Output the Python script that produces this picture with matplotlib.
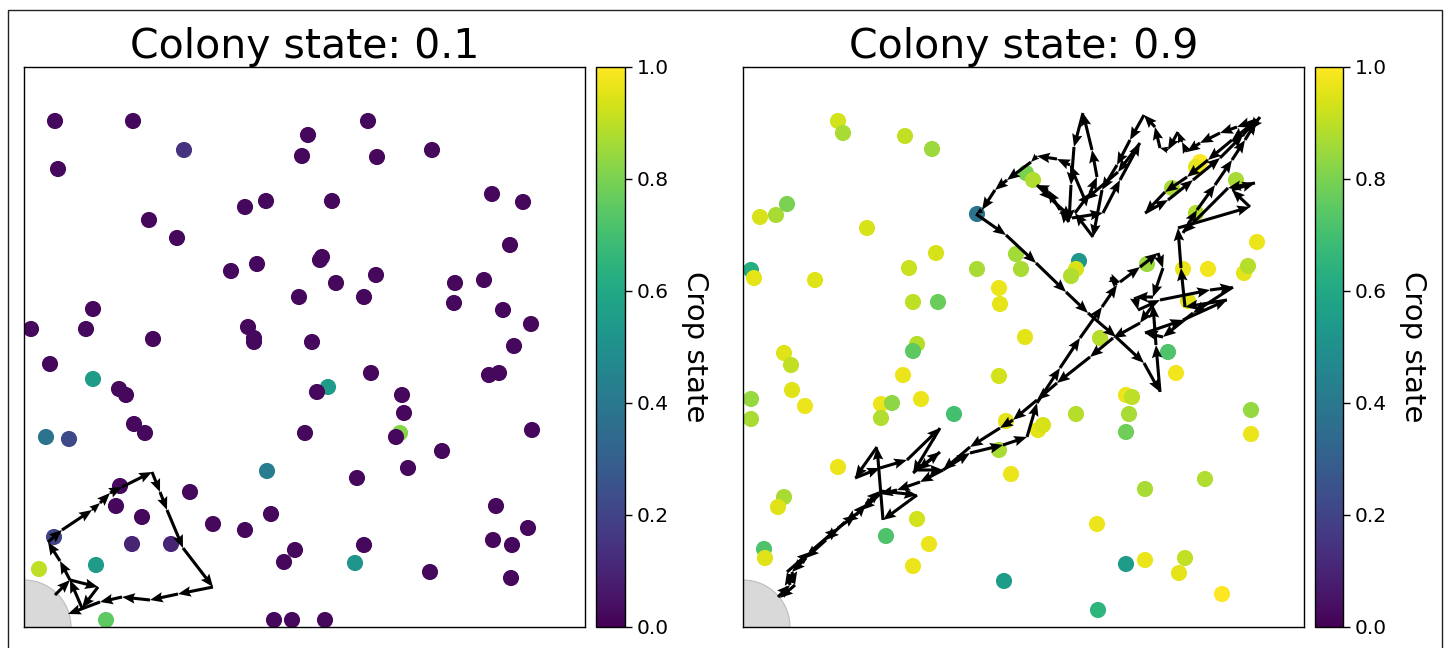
import numpy as np
import matplotlib
matplotlib.use("Agg")
import matplotlib.pyplot as plt
from matplotlib.patches import Circle, Rectangle

# ---------------- data ----------------
WORLD_W, WORLD_H = 561, 560
COLONY_R = 47

titles = ["Colony state: 0.1", "Colony state: 0.9"]
cbar_ticks = [0.0, 0.2, 0.4, 0.6, 0.8, 1.0]
cbar_label = "Crop state"

# left panel (colony state 0.1): crop positions and crop states
left_crop_x = [31, 109, 160, 34, 284, 278, 344, 353, 408, 468, 499, 221, 242, 308, 125, 153,
               486, 207, 233, 296, 298, 312, 352, 275, 340, 431, 460, 430, 479, 507, 490, 69,
               7, 62, 129, 224, 230, 230, 288, 26, 69, 95, 102, 110, 121, 22, 45, 304, 293,
               347, 378, 380, 281, 376, 372, 418, 384, 465, 475, 508, 243, 333, 96, 166, 92,
               118, 189, 221, 247, 108, 147, 30, 15, 72, 82, 271, 260, 340, 331, 406, 250,
               268, 301, 472, 469, 504, 488, 487]
left_crop_y = [506, 506, 477, 458, 492, 471, 506, 470, 477, 433, 425, 420, 426, 426, 407, 389,
               382, 356, 363, 367, 370, 344, 352, 330, 330, 344, 347, 324, 317, 303, 281, 318,
               298, 298, 288, 300, 289, 285, 285, 263, 248, 238, 232, 203, 194, 190, 188, 240,
               235, 254, 232, 214, 194, 194, 190, 176, 159, 252, 254, 197, 156, 149, 141, 135,
               121, 110, 103, 97, 113, 83, 83, 90, 58, 62, 7, 77, 65, 82, 64, 55, 7,
               7, 7, 121, 87, 99, 82, 49]
left_crop_c = [0.02, 0.02, 0.15, 0.02, 0.02, 0.02, 0.02, 0.02, 0.02, 0.02, 0.02, 0.02, 0.02,
               0.02, 0.02, 0.02, 0.02, 0.02, 0.02, 0.02, 0.02, 0.02, 0.02, 0.02, 0.02, 0.02,
               0.02, 0.02, 0.02, 0.02, 0.02, 0.02, 0.02, 0.02, 0.02, 0.02, 0.02, 0.02, 0.02,
               0.02, 0.55, 0.02, 0.02, 0.02, 0.02, 0.38, 0.22, 0.55, 0.02, 0.02, 0.02, 0.02,
               0.02, 0.82, 0.02, 0.02, 0.02, 0.02, 0.02, 0.02, 0.42, 0.02, 0.02, 0.02, 0.02,
               0.02, 0.02, 0.02, 0.02, 0.10, 0.10, 0.20, 0.90, 0.55, 0.75, 0.02, 0.02, 0.02,
               0.52, 0.02, 0.02, 0.02, 0.02, 0.02, 0.02, 0.02, 0.02, 0.02]

left_path_x = [31, 46, 74, 58, 46, 36, 24, 38, 68, 76, 86, 98, 128, 136, 143, 159, 189,
               154, 126, 98, 76, 44]
left_path_y = [32, 47, 40, 19, 47, 66, 85, 97, 117, 124, 134, 140, 155, 135, 117, 79, 40,
               33, 27, 30, 25, 13]

# right panel (colony state 0.9)
right_crop_x = [95, 100, 162, 189, 17, 33, 44, 124, 193, 166, 234, 8, 11, 72, 170, 195, 256,
                257, 273, 278, 234, 336, 333, 328, 282, 357, 174, 170, 41, 48, 160, 256, 49,
                62, 8, 8, 138, 149, 138, 178, 211, 333, 386, 383, 389, 383, 263, 295, 300,
                256, 268, 95, 41, 35, 21, 22, 174, 143, 186, 170, 261, 354, 383, 402, 442,
                436, 479, 355, 402, 462, 508, 508, 425, 433, 440, 465, 501, 505, 514, 445,
                404, 453, 493, 429, 457, 453, 283, 290]
right_crop_y = [506, 494, 491, 478, 410, 412, 423, 399, 374, 359, 358, 357, 349, 347, 325,
                325, 339, 323, 373, 358, 413, 366, 358, 351, 290, 289, 283, 276, 274, 262,
                252, 251, 237, 221, 228, 208, 223, 224, 209, 228, 213, 213, 213, 232, 230,
                195, 206, 197, 202, 177, 153, 160, 130, 120, 78, 69, 108, 91, 83, 61, 46,
                103, 63, 67, 69, 54, 33, 17, 138, 148, 217, 193, 275, 254, 358, 358, 354,
                361, 385, 326, 363, 414, 447, 439, 465, 460, 454, 447]
right_crop_c = [0.93, 0.87, 0.91, 0.85, 0.94, 0.87, 0.80, 0.94, 0.94, 0.92, 0.87, 0.62, 0.96,
                0.95, 0.90, 0.77, 0.97, 0.96, 0.86, 0.87, 0.38, 0.53, 0.94, 0.88, 0.96, 0.89,
                0.89, 0.75, 0.95, 0.91, 0.97, 0.93, 0.95, 0.97, 0.84, 0.87, 0.97, 0.83, 0.88,
                0.97, 0.70, 0.89, 0.87, 0.97, 0.90, 0.78, 0.96, 0.96, 0.94, 0.87, 0.97, 0.97,
                0.87, 0.95, 0.72, 0.95, 0.93, 0.72, 0.97, 0.97, 0.55, 0.97, 0.55, 0.97, 0.91,
                0.96, 1.00, 0.65, 0.87, 0.88, 0.84, 0.97, 0.72, 0.98, 0.97, 0.98, 0.96, 0.89,
                0.97, 0.95, 0.85, 0.88, 0.87, 0.87, 1.00, 0.96, 0.80, 0.88]

right_path_x = [35, 47, 44, 67, 95, 113, 123, 137, 174, 140, 134, 112, 137, 164, 197, 170,
                197, 175, 200, 227, 260, 284, 294, 317, 337, 359, 374, 367, 377, 397, 415,
                420, 410, 392, 395, 417, 467, 490, 450, 420, 402, 440, 484, 442, 438, 435,
                507, 489, 512, 485, 440, 454, 472, 489, 502, 513, 517, 507, 514, 489, 465,
                444, 422, 402, 425, 450, 477, 500, 513, 494, 477, 457, 444, 439, 435, 425,
                417, 412, 401, 387, 374, 359, 350, 332, 347, 354, 349, 340, 331, 328, 326,
                317, 305, 294, 309, 329, 360, 377, 397, 375, 342, 327, 314, 294, 288, 264,
                252, 239, 233, 263, 293, 323, 345, 373, 401, 417, 413, 410, 397, 370, 347,
                314, 294, 270, 257, 227, 200, 177, 154, 137, 119, 102, 83, 63, 49, 52, 37]
right_path_y = [30, 42, 55, 75, 99, 112, 123, 136, 132, 107, 180, 149, 159, 167, 199, 154,
                175, 157, 157, 174, 182, 190, 224, 259, 289, 320, 342, 349, 345, 360, 374,
                359, 330, 330, 317, 327, 337, 340, 314, 290, 294, 307, 327, 320, 359, 399,
                420, 437, 444, 439, 394, 417, 442, 467, 487, 505, 510, 497, 507, 487, 467,
                450, 435, 414, 427, 447, 469, 492, 507, 500, 494, 484, 475, 485, 495, 477,
                479, 500, 512, 487, 462, 437, 390, 414, 434, 450, 477, 514, 480, 442, 405,
                417, 437, 442, 427, 409, 414, 447, 484, 455, 427, 462, 468, 471, 465, 447,
                437, 417, 413, 392, 364, 335, 314, 290, 264, 235, 282, 322, 304, 289, 270,
                244, 227, 207, 199, 180, 157, 145, 137, 133, 117, 105, 87, 69, 55, 42, 29]

panels = [
    (titles[0], left_crop_x, left_crop_y, left_crop_c, left_path_x, left_path_y),
    (titles[1], right_crop_x, right_crop_y, right_crop_c, right_path_x, right_path_y),
]

# ---------------- figure ----------------
W, H = 1448, 648
fig = plt.figure(figsize=(W / 100, H / 100), dpi=100)

# outer frame of the figure
fig.patches.append(Rectangle((8 / W, -0.05), (1442 - 8) / W, 1.05 - 10 / H,
                             transform=fig.transFigure, fill=False,
                             edgecolor="#222222", linewidth=1.0))

ax_boxes = [(24, 585), (743, 1304)]
cb_boxes = [(596, 625), (1315, 1343)]
top_px, bot_px = 67, 627

for (title, cx, cy, cc, px, py), (a0, a1), (c0, c1) in zip(panels, ax_boxes, cb_boxes):
    ax = fig.add_axes([a0 / W, (H - bot_px) / H, (a1 - a0) / W, (bot_px - top_px) / H])
    ax.set_xlim(0, WORLD_W)
    ax.set_ylim(0, WORLD_H)
    ax.set_xticks([])
    ax.set_yticks([])
    for sp in ax.spines.values():
        sp.set_linewidth(1.0)

    ax.add_patch(Circle((0, 0), COLONY_R, facecolor="#d9d9d9",
                        edgecolor="#bdbdbd", linewidth=0.8, zorder=1))

    sc = ax.scatter(cx, cy, c=cc, cmap="viridis", vmin=0, vmax=1,
                    s=135, linewidths=0, zorder=2)

    x = np.asarray(px, dtype=float)
    y = np.asarray(py, dtype=float)
    ax.quiver(x[:-1], y[:-1], np.diff(x), np.diff(y), angles="xy",
              scale_units="xy", scale=1, color="black", width=0.0055,
              headwidth=3.4, headlength=4.2, headaxislength=3.7, zorder=3)

    ax.set_title(title, fontsize=29.5, pad=6)

    cax = fig.add_axes([c0 / W, (H - bot_px) / H, (c1 - c0) / W, (bot_px - top_px) / H])
    cb = fig.colorbar(sc, cax=cax, ticks=cbar_ticks)
    cb.ax.tick_params(labelsize=14.5, length=5, width=1)
    cb.outline.set_linewidth(1.0)
    cb.set_label(cbar_label, rotation=270, fontsize=21, labelpad=9, va="bottom")

fig.savefig("out.png", dpi=100)
